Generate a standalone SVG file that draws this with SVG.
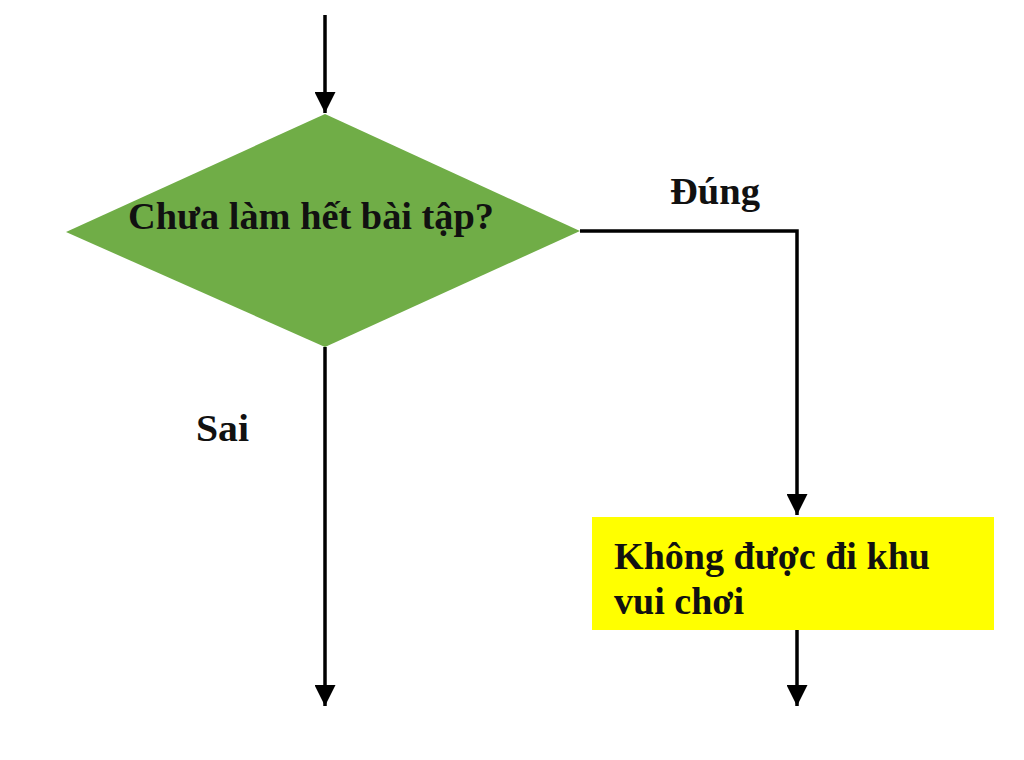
<svg xmlns="http://www.w3.org/2000/svg" width="1024" height="760" viewBox="0 0 1024 760">
<style>
.t{font-family:"Liberation Serif","Times New Roman",serif;font-weight:bold;fill:#111;font-size:37px;}
.c{fill:none;stroke:#000;stroke-width:3.5;}
</style>
<defs>
<marker id="ah" viewBox="0 0 10 10" refX="10" refY="5" markerWidth="6" markerHeight="6" markerUnits="strokeWidth" orient="auto">
<path d="M0,0 L10,5 L0,10 z" fill="#000"/>
</marker>
</defs>
<rect width="1024" height="760" fill="#fff"/>
<g id="connectors">
<line class="c" x1="325" y1="15" x2="325" y2="113" marker-end="url(#ah)"/>
<polyline class="c" points="580,231 797,231 797,515" marker-end="url(#ah)"/>
<line class="c" x1="325" y1="347" x2="325" y2="706" marker-end="url(#ah)"/>
<line class="c" x1="797" y1="630" x2="797" y2="706" marker-end="url(#ah)"/>
</g>
<g id="decision">
<polygon points="325,114 580,231 325,347 66,232" fill="#70AD47"/>
<text class="t" x="128" y="229" textLength="366" lengthAdjust="spacingAndGlyphs">Chưa làm hết bài tập?</text>
</g>
<g id="label-dung">
<text class="t" x="670" y="204" textLength="90" lengthAdjust="spacingAndGlyphs">Đúng</text>
</g>
<g id="label-sai">
<text class="t" x="196" y="441" textLength="53" lengthAdjust="spacingAndGlyphs">Sai</text>
</g>
<g id="action">
<rect x="592" y="517" width="402" height="113" fill="#FFFF00"/>
<text class="t" x="614" y="569" textLength="316" lengthAdjust="spacingAndGlyphs">Không được đi khu</text>
<text class="t" x="614" y="614" textLength="130" lengthAdjust="spacingAndGlyphs">vui chơi</text>
</g>
</svg>
